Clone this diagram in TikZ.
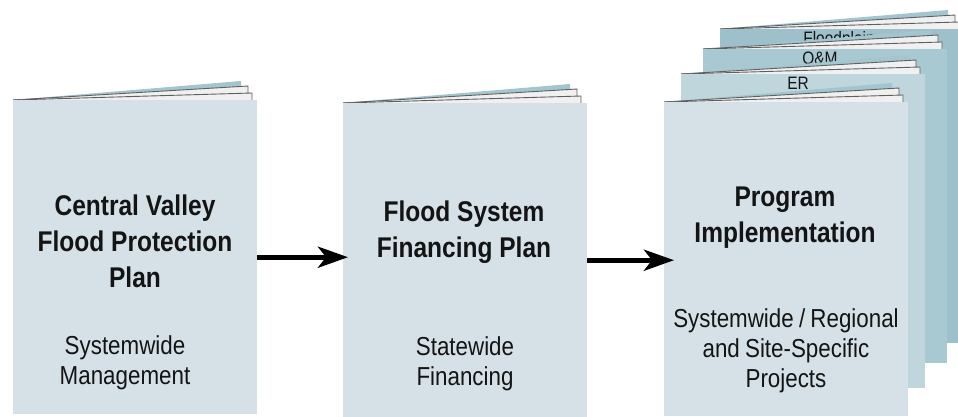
\documentclass[tikz,border=0pt]{standalone}
\usepackage{fontspec}
\setmainfont[FakeStretch=0.86]{Liberation Sans}
\usetikzlibrary{arrows.meta}

\definecolor{coverfront}{RGB}{213,225,230}
\definecolor{coverER}{RGB}{191,214,220}
\definecolor{coverOM}{RGB}{168,200,210}
\definecolor{coverFP}{RGB}{157,192,203}
\definecolor{backcover}{RGB}{163,197,207}
\definecolor{pagefill}{RGB}{240,240,240}
\definecolor{pageedge}{RGB}{95,95,95}
\definecolor{inktext}{RGB}{20,20,20}

% narrower interword spaces for the captions
\newcommand{\tightspaces}{\spaceskip=0.2em plus 0.05em\relax}

% pages and back cover peeking out above a booklet: #1 left, #2 top, #3 right
\newcommand{\bookletpages}[3]{%
  \fill[backcover] (#1,#2) -- (#3-16,#2-19) -- (#3-16,#2) -- cycle;
  \filldraw[pagefill, draw=pageedge, line width=0.9pt, line join=miter]
    (#1,#2) -- (#3-9,#2-14) -- (#3-9,#2);
  \filldraw[pagefill, draw=pageedge, line width=0.9pt, line join=miter]
    (#1,#2) -- (#3-5,#2-7) -- (#3-5,#2);
}

\tikzset{
  cover/.style={rectangle, inner sep=0pt, anchor=north west,
    minimum width=244pt, minimum height=314pt},
  titletext/.style={align=center, text=inktext,
    font=\fontsize{28.5}{36}\selectfont\bfseries},
  subtext/.style={align=center, text=inktext,
    font=\fontsize{26}{30}\selectfont\tightspaces},
  tabtext/.style={anchor=base, text=inktext, inner sep=0pt,
    font=\fontsize{18}{20}\selectfont},
  flow/.style={line width=5pt, draw=black,
    -{Stealth[length=30pt, width=21pt, inset=8pt]}}
}

\begin{document}
\begin{tikzpicture}[x=1pt, y=-1pt]
\clip (0,0) rectangle (958,416);
\fill[white] (0,0) rectangle (958,416);

% ---- Central Valley Flood Protection Plan
\bookletpages{13}{100}{257}
\node[cover, fill=coverfront] (cvfpp) at (13,100) {};
\node[titletext] (cvfppT) at (135,241) {Central Valley\\Flood Protection\\Plan};
\node[subtext] (cvfppS) at (125,363) {Systemwide\\Management};

% ---- Flood System Financing Plan
\bookletpages{343}{103}{586}
\node[cover, fill=coverfront] (fsfp) at (343,103) {};
\node[titletext] (fsfpT) at (464,232) {Flood System\\Financing Plan};
\node[subtext] (fsfpS) at (465,364) {Statewide\\Financing};

% ---- Program Implementation: stacked booklets
\bookletpages{720}{29}{964}
\node[cover, fill=coverFP] (fp) at (720,29) {};
\node[tabtext] (fpL) at (839,44) {Floodplain};

\bookletpages{703}{49}{947}
\node[cover, fill=coverOM] (om) at (703,49) {};
\node[tabtext] (omL) at (820,64) {O\&M};

\bookletpages{681}{74}{925}
\node[cover, fill=coverER] (er) at (681,74) {};
\node[tabtext] (erL) at (798,89) {ER};

\bookletpages{664}{102}{908}
\node[cover, fill=coverfront] (pi) at (664,102) {};
\node[titletext] (piT) at (785,218) {Program\\Implementation};
\node[subtext] (piS) at (786,351) {Systemwide / Regional\\and Site-Specific\\Projects};

% ---- flow arrows
\draw[flow] (cvfpp.east) -- ([xshift=5pt]cvfpp.east -| fsfp.west);
\draw[flow] (fsfp.east) -- ([xshift=10pt]fsfp.east -| pi.west);
\end{tikzpicture}
\end{document}
